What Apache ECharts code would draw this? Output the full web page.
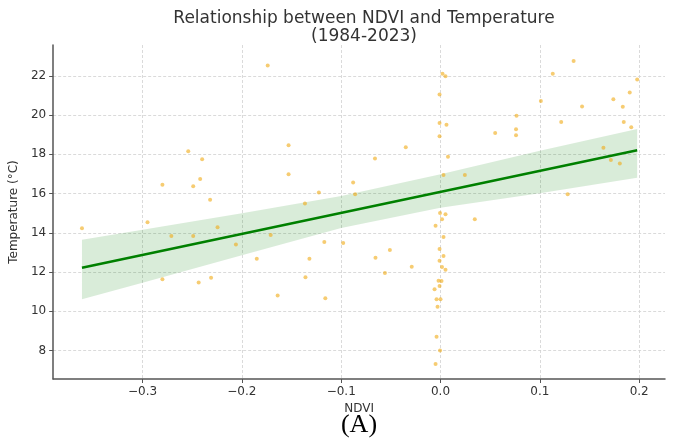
<!DOCTYPE html>
<html>
<head>
<meta charset="utf-8">
<script src="https://cdn.jsdelivr.net/npm/echarts@6/dist/echarts.min.js"></script>
<style>
html,body{margin:0;padding:0;background:#fff;}
#chart{width:674px;height:438px;}
</style>
</head>
<body>
<div id="chart"></div>
<script>
// Scatter data: NDVI (x) and Temperature (y)
const ndvi = [
  -0.361, -0.295, -0.280, -0.280, -0.271, -0.254, -0.249, -0.249, -0.2435, -0.242,
  -0.240, -0.232, -0.231, -0.2245, -0.206, -0.185, -0.174, -0.171, -0.164, -0.153,
  -0.153, -0.1365, -0.136, -0.132, -0.1225, -0.117, -0.116, -0.098, -0.088, -0.086,
  -0.066, -0.0655, -0.056, -0.051, -0.035, -0.029, 0.002, 0.005, -0.001, -0.001,
  0.006, -0.001, 0.0075, 0.003, 0.0245, 0.055, -0.0005, 0.005, 0.0015, 0.0345,
  -0.005, 0.003, -0.001, 0.003, -0.001, 0.0015, 0.005, -0.002, 0.001, -0.001,
  -0.006, -0.004, 0.000, -0.003, -0.004, -0.0005, -0.005, 0.134, 0.113, 0.198,
  0.1905, 0.101, 0.174, 0.1425, 0.1835, 0.0765, 0.076, 0.076, 0.1215, 0.1845,
  0.192, 0.164, 0.1715, 0.1805, 0.128
];
const temperature = [
  14.23, 14.54, 16.45, 11.63, 13.84, 18.16, 16.37, 13.84, 11.47, 16.74,
  17.75, 15.69, 11.71, 14.28, 13.41, 12.68, 22.53, 13.89, 10.81, 18.46,
  16.98, 15.49, 11.73, 12.68, 16.05, 13.53, 10.67, 13.48, 16.56, 15.96,
  17.78, 12.73, 11.95, 13.12, 18.36, 12.27, 22.10, 21.98, 21.05, 19.60,
  19.50, 18.92, 17.87, 16.95, 16.95, 19.08, 15.01, 14.94, 14.69, 14.69,
  14.36, 13.79, 13.17, 12.82, 12.58, 12.26, 12.12, 11.56, 11.54, 11.29,
  11.12, 10.62, 10.62, 10.23, 8.70, 8.00, 7.31, 22.75, 22.10, 21.81,
  21.15, 20.72, 20.81, 20.43, 20.42, 19.97, 19.28, 18.97, 19.64, 19.65,
  19.38, 18.33, 17.71, 17.53, 15.96
];
// Regression line endpoints
const fitX = [-0.361, 0.198];
const fitY = [12.22, 18.21];
// Confidence band
const bandX = [-0.361, -0.3, -0.2, -0.1, 0.0, 0.1, 0.198];
const bandUpper = [13.65, 14.15, 15.0, 15.88, 16.98, 18.18, 19.29];
const bandLower = [10.62, 11.46, 12.85, 14.25, 15.28, 16.02, 16.81];
// Tick values
const xTicks = [-0.3, -0.2, -0.1, 0.0, 0.1, 0.2];
const yTicks = [8, 10, 12, 14, 16, 18, 20, 22];

const chart = echarts.init(document.getElementById('chart'), null, {renderer: 'canvas'});
const font = 'DejaVu Sans';
const option = {
  animation: false,
  backgroundColor: '#fff',
  title: {
    text: 'Relationship between NDVI and Temperature\n(1984-2023)',
    left: 359,
    top: 5,
    textAlign: 'center',
    textStyle: {fontFamily: font, fontSize: 17, fontWeight: 'normal', color: '#333', lineHeight: 18}
  },
  grid: {left: 52.5, right: 9, top: 45, bottom: 59, containLabel: false},
  xAxis: {
    type: 'value', min: -0.39, max: 0.226,
    name: 'NDVI', nameLocation: 'middle', nameGap: 15,
    nameTextStyle: {fontFamily: font, fontSize: 12, color: '#333'},
    axisLine: {show: true, onZero: false, lineStyle: {color: '#555', width: 1.5}},
    axisTick: {show: true, inside: false, length: 4, customValues: xTicks, lineStyle: {color: '#555'}},
    axisLabel: {customValues: xTicks, fontFamily: font, fontSize: 12, color: '#333', margin: 7,
      formatter: v => v.toFixed(1).replace('-', '\u2212')},
    splitLine: {show: true, lineStyle: {color: '#d0d0d0', type: [3, 2], width: 0.8}}
  },
  yAxis: {
    type: 'value', min: 6.55, max: 23.57,
    name: 'Temperature (°C)', nameLocation: 'middle', nameGap: 33,
    nameTextStyle: {fontFamily: font, fontSize: 12, color: '#333'},
    axisLine: {show: true, onZero: false, lineStyle: {color: '#555', width: 1.5}},
    axisTick: {show: true, inside: false, length: 4, customValues: yTicks, lineStyle: {color: '#555'}},
    axisLabel: {customValues: yTicks, fontFamily: font, fontSize: 12, color: '#333', margin: 7,
      formatter: v => String(Math.round(v))},
    splitLine: {show: true, lineStyle: {color: '#d0d0d0', type: [3, 2], width: 0.8}}
  },
  series: [
    {
      type: 'custom',
      z: 1,
      silent: true,
      data: bandX.map((x, i) => [x, bandUpper[i], bandLower[i]]),
      encode: {x: 0, y: [1, 2]},
      renderItem: function (params, api) {
        if (params.dataIndex !== 0) return null;
        const pts = [];
        for (let i = 0; i < bandX.length; i++) pts.push(api.coord([bandX[i], bandUpper[i]]));
        for (let i = bandX.length - 1; i >= 0; i--) pts.push(api.coord([bandX[i], bandLower[i]]));
        return {type: 'polygon', shape: {points: pts}, style: {fill: 'rgba(0,128,0,0.15)'}};
      }
    },
    {
      type: 'scatter',
      z: 2,
      symbolSize: 4,
      itemStyle: {color: 'rgba(240,170,20,0.75)'},
      data: ndvi.map((x, i) => [x, temperature[i]])
    },
    {
      type: 'line',
      z: 3,
      showSymbol: false,
      symbol: 'none',
      lineStyle: {color: '#008000', width: 2.5},
      data: fitX.map((x, i) => [x, fitY[i]])
    }
  ],
  graphic: [
    {type: 'text', x: 359, y: 425,
     style: {text: '(A)', fontFamily: 'Liberation Serif', fontSize: 26, fill: '#000',
             align: 'center', verticalAlign: 'middle'}}
  ]
};
chart.setOption(option);
</script>
</body>
</html>
